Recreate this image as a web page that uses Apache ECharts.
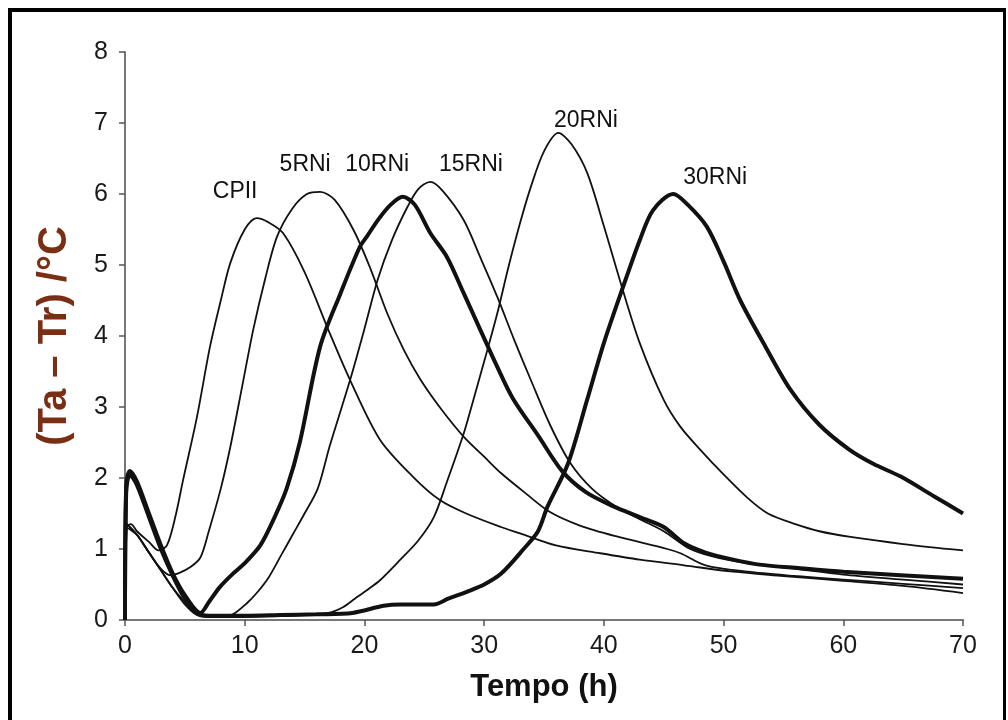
<!DOCTYPE html>
<html lang="pt">
<head>
    <meta charset="UTF-8">
    <title>(Ta – Tr) x Tempo</title>
    <script src="https://cdn.jsdelivr.net/npm/echarts@6.0.0/dist/echarts.min.js"></script>
    <style>
        html, body { margin: 0; padding: 0; background: #fff; overflow: hidden; }
        #frame {
            position: absolute;
            left: 8px; top: 8px;
            width: 991px; height: 730px;
            border-left: 4px solid #000;
            border-top: 4px solid #000;
            border-right: 3px solid #000;
        }
        #chart { position: absolute; left: 0; top: 0; width: 1008px; height: 720px; }
    </style>
</head>
<body>
    <div id="frame"></div>
    <div id="chart"></div>

    <script>
        // curvas: [tempo (h), Ta - Tr (°C)]
        const cpii = [
            [0, 0], [0.15, 1.3], [0.5, 1.35], [1, 1.25], [2, 1.1], [2.8, 0.98], [3.5, 1.05],
            [4.2, 1.45], [4.85, 1.97], [6, 2.85], [7.1, 3.85], [8, 4.5], [8.8, 5.03], [10, 5.5],
            [11, 5.66], [12, 5.6], [13.2, 5.45], [15, 4.9], [17.1, 4.04], [18.8, 3.38],
            [21.3, 2.54], [24.1, 2.01], [26.3, 1.69], [28.5, 1.5], [31.4, 1.31], [33, 1.22],
            [36, 1.05], [39.7, 0.94], [43, 0.85], [46.7, 0.77], [50.8, 0.68], [55, 0.62],
            [60, 0.55], [65, 0.48], [70, 0.38]
        ];
        const rni5 = [
            [0, 0], [0.15, 1.35], [1, 1.2], [2, 0.95], [3, 0.72], [3.8, 0.63], [4.5, 0.66],
            [5.5, 0.75], [6.3, 0.88], [7, 1.25], [8, 1.85], [8.8, 2.44], [9.8, 3.3], [10.7, 4.08],
            [11.7, 4.8], [12.7, 5.4], [14, 5.8], [15.2, 6.0], [16.3, 6.03], [17.5, 5.92],
            [19.1, 5.49], [20.5, 4.95], [21.9, 4.32], [23.3, 3.8], [24.7, 3.38], [26.5, 2.95],
            [28.3, 2.58], [30, 2.3], [31.4, 2.07], [33.5, 1.78], [35.5, 1.52], [38, 1.33],
            [41, 1.18], [45.3, 1.0], [46.4, 0.94], [48.5, 0.77], [52, 0.68], [56, 0.62],
            [60, 0.57], [65, 0.51], [70, 0.45]
        ];
        const rni10 = [
            [0, 0], [0.1, 1.9], [0.4, 2.1], [1, 1.95], [2, 1.5], [3, 1.05], [4, 0.65], [5, 0.35],
            [6.3, 0.1], [7, 0.25], [7.9, 0.46], [9, 0.65], [10, 0.8], [11.3, 1.05], [12.5, 1.45],
            [13.5, 1.85], [14.6, 2.5], [16.3, 3.85], [18, 4.6], [19.6, 5.25], [20.2, 5.4],
            [21.2, 5.65], [22.2, 5.85], [23.2, 5.96], [24.2, 5.85], [25.5, 5.45], [26.9, 5.11],
            [28.3, 4.6], [29.7, 4.08], [31, 3.6], [32.4, 3.12], [34.5, 2.6], [36.5, 2.1],
            [38.5, 1.8], [40.8, 1.6], [43, 1.45], [45, 1.31], [46.7, 1.08], [48.5, 0.95],
            [50.8, 0.85], [53, 0.78], [56.4, 0.73], [60, 0.68], [64.8, 0.63], [70, 0.58]
        ];
        const rni15 = [
            [0, 0], [0.15, 1.35], [1, 1.2], [2, 0.95], [3, 0.7], [4, 0.45], [5, 0.25], [6, 0.08],
            [7, 0.05], [8, 0.05], [9, 0.08], [10.2, 0.24], [11, 0.38], [12, 0.6], [13, 0.9],
            [14, 1.2], [15, 1.5], [16.1, 1.85], [17.1, 2.45], [18.8, 3.38], [20, 4.1],
            [21.1, 4.79], [22.3, 5.35], [23.6, 5.82], [24.5, 6.07], [25.5, 6.17], [26.5, 6.05],
            [28.3, 5.63], [29.7, 5.1], [31.1, 4.55], [32.5, 3.95], [33.9, 3.38], [35.5, 2.75],
            [37.2, 2.21], [39, 1.85], [41, 1.6], [43, 1.42], [45, 1.25], [47, 1.02], [49, 0.9],
            [52, 0.8], [56, 0.72], [60, 0.64], [65, 0.57], [70, 0.5]
        ];
        const rni20 = [
            [0, 0], [0.15, 1.3], [1, 1.2], [2, 0.95], [3, 0.7], [4, 0.45], [5, 0.22], [6, 0.07],
            [7, 0.04], [9, 0.04], [12, 0.05], [15, 0.07], [17, 0.1], [18.2, 0.18], [19.2, 0.3],
            [20.2, 0.42], [21.3, 0.56], [23, 0.85], [24.5, 1.12], [25.8, 1.45], [26.9, 1.95],
            [28.3, 2.63], [29.1, 3.1], [30.1, 3.7], [31.1, 4.32], [32, 4.95], [33, 5.59],
            [33.9, 6.1], [35, 6.6], [36.2, 6.86], [37.3, 6.7], [38.6, 6.3], [40, 5.55],
            [41.4, 4.75], [43, 3.9], [45, 3.1], [46.4, 2.72], [48.1, 2.39], [50, 2.05],
            [52, 1.72], [53.7, 1.5], [56, 1.35], [58, 1.25], [60.6, 1.17], [65, 1.07], [70, 0.98]
        ];
        const rni30 = [
            [0, 0], [0.1, 1.8], [0.4, 2.05], [1, 1.9], [2, 1.45], [3, 1.0], [4, 0.62], [5, 0.3],
            [6, 0.1], [7, 0.06], [10, 0.06], [13, 0.07], [16, 0.08], [19, 0.1], [21.6, 0.2],
            [23, 0.22], [25.8, 0.22], [27, 0.3], [28.6, 0.4], [30, 0.5], [31.4, 0.65],
            [33.3, 1.0], [34.5, 1.25], [35.3, 1.6], [37, 2.2], [38.6, 3.1], [40, 3.9],
            [41.6, 4.69], [43, 5.35], [44.1, 5.77], [45.8, 6.0], [47, 5.85], [48.6, 5.54],
            [50, 5.05], [51.4, 4.5], [53.5, 3.85], [55.6, 3.24], [58, 2.75], [60.5, 2.4],
            [62.5, 2.2], [64.8, 2.02], [67.6, 1.74], [70, 1.5]
        ];

        // rótulos das curvas (posição em unidades do gráfico)
        const curveLabels = [
            [9.2, 6.04, 'CPII'],
            [15.05, 6.41, '5RNi'],
            [21.07, 6.41, '10RNi'],
            [28.9, 6.41, '15RNi'],
            [38.5, 7.03, '20RNi'],
            [49.3, 6.23, '30RNi']
        ];

        const xTicks = { min: 0, max: 70, interval: 10 };
        const yTicks = { min: 0, max: 8, interval: 1 };

        const font = 'Liberation Sans, Arial, sans-serif';

        function curve(name, data, width) {
            return {
                name: name,
                type: 'line',
                data: data,
                showSymbol: false,
                smooth: 0.3,
                lineStyle: { color: '#111', width: width },
                z: 3
            };
        }

        const chart = echarts.init(document.getElementById('chart'));

        chart.setOption({
            animation: false,
            grid: { left: 125, right: 45, top: 52, bottom: 100 },
            xAxis: {
                type: 'value',
                min: xTicks.min, max: xTicks.max, interval: xTicks.interval,
                name: 'Tempo (h)',
                nameLocation: 'middle',
                nameGap: 52,
                nameTextStyle: { color: '#111', fontSize: 31, fontWeight: 'bold', fontFamily: font },
                axisLine: { lineStyle: { color: '#777', width: 2 } },
                axisTick: { length: 6, lineStyle: { color: '#555', width: 1.5 } },
                axisLabel: { margin: 14, color: '#1a1a1a', fontSize: 25, fontFamily: font },
                splitLine: { show: false }
            },
            yAxis: {
                type: 'value',
                min: yTicks.min, max: yTicks.max, interval: yTicks.interval,
                name: '(Ta – Tr) /°C',
                nameLocation: 'middle',
                nameRotate: 90,
                nameGap: 50,
                nameTextStyle: { color: '#7a2e12', fontSize: 40, fontWeight: 'bold', fontFamily: font },
                axisLine: { show: true, lineStyle: { color: '#777', width: 2 } },
                axisTick: { show: true, length: 6, lineStyle: { color: '#555', width: 1.5 } },
                axisLabel: { margin: 17, color: '#1a1a1a', fontSize: 25, fontFamily: font },
                splitLine: { show: false }
            },
            series: [
                curve('CPII', cpii, 1.8),
                curve('5RNi', rni5, 1.8),
                curve('10RNi', rni10, 4),
                curve('15RNi', rni15, 1.8),
                curve('20RNi', rni20, 1.8),
                curve('30RNi', rni30, 4),
                {
                    name: 'rotulos',
                    type: 'scatter',
                    data: curveLabels,
                    symbolSize: 0,
                    silent: true,
                    itemStyle: { opacity: 1 },
                    label: {
                        show: true,
                        position: 'inside',
                        formatter: p => p.value[2],
                        color: '#111',
                        opacity: 1,
                        fontSize: 23,
                        fontFamily: font
                    },
                    z: 5
                }
            ]
        });
    </script>
</body>
</html>
